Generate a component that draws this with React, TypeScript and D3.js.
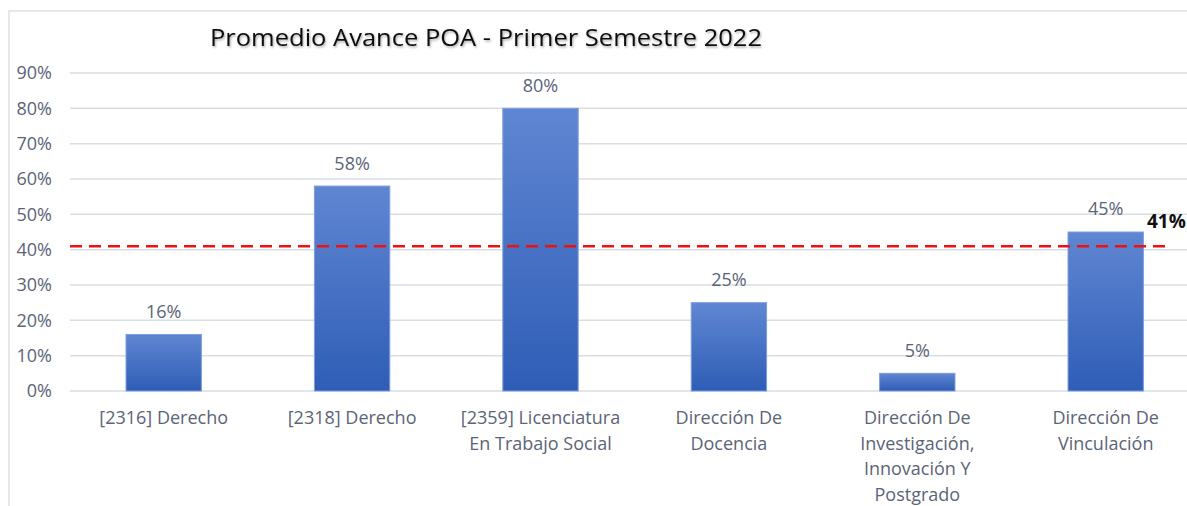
import React from "react";
import * as d3 from "d3";

const categories = [
  ["[2316] Derecho"],
  ["[2318] Derecho"],
  ["[2359] Licenciatura", "En Trabajo Social"],
  ["Dirección De", "Docencia"],
  ["Dirección De", "Investigación,", "Innovación Y", "Postgrado"],
  ["Dirección De", "Vinculación"],
];
const values = [16, 58, 80, 25, 5, 45];
const average = 41;
const yTicks = [0, 10, 20, 30, 40, 50, 60, 70, 80, 90];
const title = "Promedio Avance POA - Primer Semestre 2022";

export default function App() {
  const W = 1187, H = 506;
  const x0 = 69.5, step = 188.4;
  const x = d3.scaleBand<number>().domain(d3.range(categories.length)).range([x0, x0 + step * categories.length]).paddingInner(0.6).paddingOuter(0.3);
  const y = d3.scaleLinear().domain([0, 90]).range([391, 73]);
  const font = "'Open Sans', sans-serif";
  const gray = "#5b6478";
  const fs = 18;
  return (
    <svg width={W} height={H} style={{ position: "absolute", left: 0, top: 0 }}>
      <defs>
        <linearGradient id="bg" x1="0" y1="0" x2="0" y2="1">
          <stop offset="0" stopColor="#5f86d2" />
          <stop offset="1" stopColor="#2f5db6" />
        </linearGradient>
        <filter id="sh" x="-5%" y="-20%" width="110%" height="160%">
          <feDropShadow dx="1" dy="1.5" stdDeviation="1" floodColor="#000" floodOpacity="0.35" />
        </filter>
      </defs>
      <rect x={0} y={0} width={W} height={H} fill="#fff" />
      <rect x={9} y={11} width={W + 10} height={H + 10} fill="#fff" stroke="#dde1e8" strokeWidth={1.5} />
      <text x={210} y={46} textLength={552} lengthAdjust="spacingAndGlyphs" fontFamily={font} fontSize={24} fill="#111" filter="url(#sh)">{title}</text>
      {yTicks.map((t) => (
        <g key={t}>
          <line x1={70} x2={W} y1={y(t)} y2={y(t)} stroke="#d9dde5" strokeWidth={1.5} />
          <text x={52} y={y(t)} dy="0.36em" textAnchor="end" fontFamily={font} fontSize={fs} fill={gray}>{t}%</text>
        </g>
      ))}
      {values.map((v, i) => (
        <g key={i}>
          <rect x={x(i)} y={y(v)} width={x.bandwidth()} height={y(0) - y(v)} fill="url(#bg)" stroke="#7d9ddd" strokeWidth={1} />
          <text x={(x(i) as number) + x.bandwidth() / 2} y={y(v) - 23} dy="0.36em" textAnchor="middle" fontFamily={font} fontSize={fs} fill={gray}>{v}%</text>
          {categories[i].map((line, j) => (
            <text key={j} x={(x(i) as number) + x.bandwidth() / 2} y={418 + j * 25.5} dy="0.36em" textAnchor="middle" fontFamily={font} fontSize={fs} fill={gray}>{line}</text>
          ))}
        </g>
      ))}
      <line x1={70} x2={1172} y1={y(average)} y2={y(average)} stroke="#f01010" strokeWidth={2.5} strokeDasharray="12 7" />
      <text x={1147} y={y(average) - 25} dy="0.36em" fontFamily={font} fontSize={19} fontWeight="bold" fill="#111">{average}%</text>
    </svg>
  );
}
